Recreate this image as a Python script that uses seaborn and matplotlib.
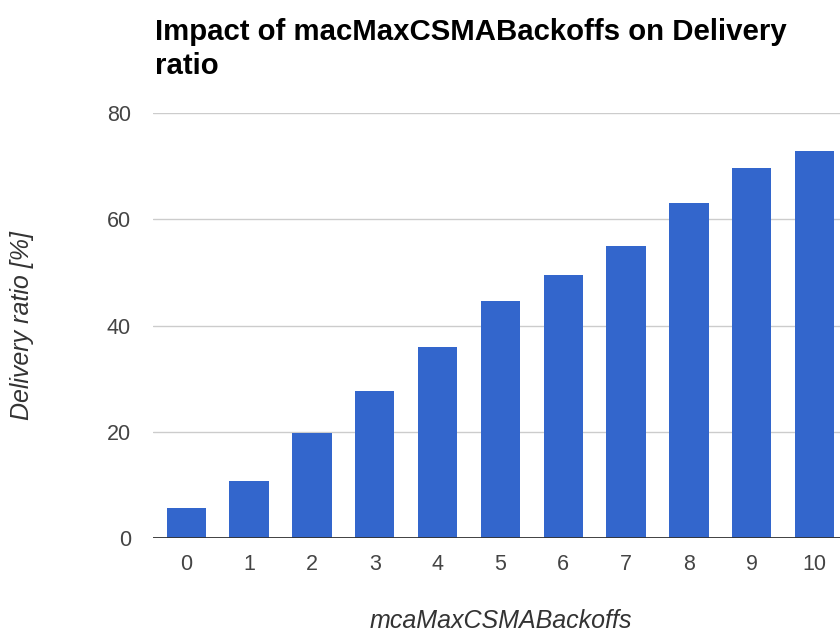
import matplotlib
matplotlib.use("Agg")
import matplotlib.pyplot as plt
import seaborn as sns
import pandas as pd

# Delivery ratio per macMaxCSMABackoffs setting
backoffs = ["0", "1", "2", "3", "4", "5", "6", "7", "8", "9", "10"]
delivery_ratio = [5.7, 10.7, 19.8, 27.8, 36.0, 44.7, 49.6, 54.9, 63.0, 69.7, 72.9]
y_ticks = [0, 20, 40, 60, 80]

title = "Impact of macMaxCSMABackoffs on Delivery\nratio"
x_title = "mcaMaxCSMABackoffs"
y_title = "Delivery ratio [%]"

sns.set_theme(style="white")
plt.rcParams["font.family"] = ["Liberation Sans", "DejaVu Sans"]

W, H = 840, 634
fig = plt.figure(figsize=(W / 100, H / 100), dpi=100)
fig.patch.set_facecolor("white")

# plot area in pixel terms: left 153, bottom 538, top 113, width ~695
left_px, bottom_px, top_px, width_px = 153, 538.3, 113, 694.8
ax = fig.add_axes([left_px / W, (H - bottom_px) / H, width_px / W, (bottom_px - top_px) / H])

df = pd.DataFrame({"backoffs": backoffs, "ratio": delivery_ratio})
sns.barplot(data=df, x="backoffs", y="ratio", color="#3366cc", saturation=1,
            width=0.626, ax=ax, edgecolor="none")

ax.set_xlim(-0.53, len(backoffs) - 0.47)
ax.set_ylim(0, 80)
ax.set_yticks(y_ticks)
ax.set_axisbelow(True)
ax.grid(axis="y", color="#cccccc", linewidth=1.0)
ax.grid(axis="x", visible=False)
for s in ax.spines.values():
    s.set_visible(False)
ax.axhline(0, color="#333333", linewidth=1.3, zorder=5)

ax.tick_params(axis="both", length=0, labelsize=15.5, labelcolor="#444444")
ax.tick_params(axis="y", pad=16)
ax.tick_params(axis="x", pad=11)

ax.set_xlabel(x_title, fontsize=18, style="italic", color="#333333", va="baseline")
ax.xaxis.set_label_coords(0.5, (bottom_px - 628.5) / (bottom_px - top_px))
ax.set_ylabel(y_title, fontsize=18, style="italic", color="#333333", va="center")
ax.yaxis.set_label_coords((22 - left_px) / width_px, 0.5)

# two-line title, anchored on the baseline of its last line
fig.text(155 / W, 1 - 74 / H, title, fontsize=21.2, fontweight="bold",
         color="#000000", ha="left", va="baseline", linespacing=1.27)

fig.savefig("out.png", dpi=100, facecolor="white")
